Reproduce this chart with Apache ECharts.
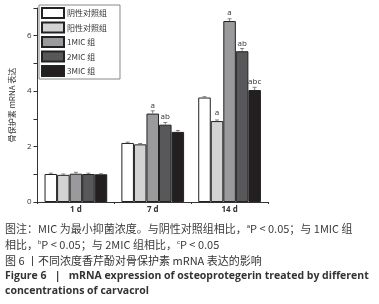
<!DOCTYPE html>
<html>
<head>
<meta charset="utf-8">
<script src="https://cdn.jsdelivr.net/npm/echarts@6/dist/echarts.min.js"></script>
<style>
  html, body { margin: 0; padding: 0; background: #fff; }
  #chart { width: 379px; height: 304px; }
</style>
</head>
<body>
<div id="chart"></div>
<script>
// categories and groups
var days = ['1 d', '7 d', '14 d'];
var groupNames = ['阴性对照组', '阳性对照组', '1MIC 组', '2MIC 组', '3MIC 组'];
var groupColors = ['#ffffff', '#d3d3d3', '#9a9a9c', '#58585a', '#231f20'];

// mRNA values
var negCtrl = [1.01, 2.13, 3.77];
var posCtrl = [0.98, 2.08, 2.92];
var mic1 = [1.02, 3.19, 6.53];
var mic2 = [1.01, 2.79, 5.44];
var mic3 = [1.00, 2.53, 4.04];

// error bar sizes
var negErr = [0.03, 0.03, 0.03];
var posErr = [0.03, 0.03, 0.04];
var mic1Err = [0.05, 0.10, 0.08];
var mic2Err = [0.03, 0.08, 0.10];
var mic3Err = [0.02, 0.05, 0.10];

// significance letters
var negSig = ['', '', ''];
var posSig = ['', '', 'a'];
var mic1Sig = ['', 'a', 'a'];
var mic2Sig = ['', 'ab', 'ab'];
var mic3Sig = ['', '', 'abc'];

var allValues = [negCtrl, posCtrl, mic1, mic2, mic3];
var allErrs = [negErr, posErr, mic1Err, mic2Err, mic3Err];
var allSigs = [negSig, posSig, mic1Sig, mic2Sig, mic3Sig];

var catGap = 0.184;
var fontCN = '"Noto Sans CJK SC", "Open Sans", sans-serif';

var series = allValues.map(function (vals, i) {
    return {
        name: groupNames[i],
        type: 'bar',
        barGap: '0%',
        barCategoryGap: (catGap * 100) + '%',
        itemStyle: { color: groupColors[i], borderColor: '#222', borderWidth: 1 },
        label: {
            show: true,
            position: 'top',
            distance: 4,
            fontSize: 8,
            fontFamily: '"Open Sans", sans-serif',
            color: '#333',
            formatter: function (p) { return allSigs[i][p.dataIndex]; }
        },
        data: vals
    };
});

// error bars drawn with a custom series
var errData = [];
allValues.forEach(function (vals, i) {
    vals.forEach(function (v, j) {
        errData.push([j, v, allErrs[i][j], i]);
    });
});

series.push({
    type: 'custom',
    silent: true,
    z: 5,
    renderItem: function (params, api) {
        var cat = api.value(0);
        var v = api.value(1);
        var e = api.value(2);
        var idx = api.value(3);
        var catW = api.size([1, 0])[0];
        var barW = catW * (1 - catGap) / 5;
        var base = api.coord([cat, v]);
        var x = base[0] + (idx - 2) * barW;
        var top = api.coord([cat, v + e])[1];
        var cap = 2;
        return {
            type: 'group',
            children: [
                { type: 'line', shape: { x1: x, y1: base[1], x2: x, y2: top }, style: { stroke: '#666', lineWidth: 0.8 } },
                { type: 'line', shape: { x1: x - cap, y1: top, x2: x + cap, y2: top }, style: { stroke: '#666', lineWidth: 0.8 } }
            ]
        };
    },
    data: errData
});

var chart = echarts.init(document.getElementById('chart'));
var option = {
    animation: false,
    backgroundColor: '#fff',
    grid: { left: 29, right: 111, top: 8, bottom: 102 },
    legend: {
        data: groupNames,
        orient: 'vertical',
        left: 39,
        top: 5,
        padding: [2, 13, 2, 2],
        itemWidth: 22,
        itemHeight: 10,
        itemGap: 2.5,
        icon: 'rect',
        borderColor: '#888',
        borderWidth: 1,
        textStyle: { fontSize: 8, color: '#333', fontFamily: fontCN, padding: [0, 0, 0, -2] }
    },
    xAxis: {
        type: 'category',
        data: days,
        axisLine: { lineStyle: { color: '#333', width: 1 } },
        axisTick: { show: true, length: 2, lineStyle: { color: '#333' } },
        axisLabel: { fontSize: 8, color: '#333', fontWeight: 'bold', margin: 4, fontFamily: '"Open Sans", sans-serif' }
    },
    yAxis: {
        type: 'value',
        min: 0,
        max: 7,
        interval: 1,
        name: '骨保护素 mRNA 表达',
        nameLocation: 'middle',
        nameGap: 17,
        nameTextStyle: { fontSize: 8, color: '#333', fontFamily: fontCN },
        splitLine: { show: false },
        axisLine: { show: true, lineStyle: { color: '#333', width: 1 } },
        axisTick: { show: true, length: 4, lineStyle: { color: '#333' } },
        axisLabel: {
            fontSize: 8, color: '#333', margin: 6, fontFamily: '"Open Sans", sans-serif',
            formatter: function (v) { return v % 2 === 0 ? v : ''; }
        }
    },
    graphic: [
        {
            type: 'text', left: 5, top: 223,
            style: {
                text: '图注：MIC 为最小抑菌浓度。与阴性对照组相比，{s|a}P < 0.05；与 1MIC 组',
                fontSize: 11, fill: '#3a3a3a', fontFamily: fontCN,
                rich: { s: { fontSize: 6, verticalAlign: 'top', padding: [0, 0, 5, 0], fill: '#3a3a3a' } }
            }
        },
        {
            type: 'text', left: 5, top: 239,
            style: {
                text: '相比，{s|b}P < 0.05；与 2MIC 组相比，{s|c}P < 0.05',
                fontSize: 11, fill: '#3a3a3a', fontFamily: fontCN,
                rich: { s: { fontSize: 6, verticalAlign: 'top', padding: [0, 0, 5, 0], fill: '#3a3a3a' } }
            }
        },
        {
            type: 'text', left: 5, top: 255,
            style: { text: '图 6 丨不同浓度香芹酚对骨保护素 mRNA 表达的影响', fontSize: 11, fill: '#333', fontFamily: fontCN }
        },
        {
            type: 'text', left: 5, top: 271,
            style: { text: 'Figure 6   |   mRNA expression of osteoprotegerin treated by different', fontSize: 10.5, fontWeight: 'bold', fill: '#333', fontFamily: '"Open Sans", sans-serif' }
        },
        {
            type: 'text', left: 5, top: 286,
            style: { text: 'concentrations of carvacrol', fontSize: 10.5, fontWeight: 'bold', fill: '#333', fontFamily: '"Open Sans", sans-serif' }
        }
    ],
    series: series
};
chart.setOption(option);
</script>
</body>
</html>
